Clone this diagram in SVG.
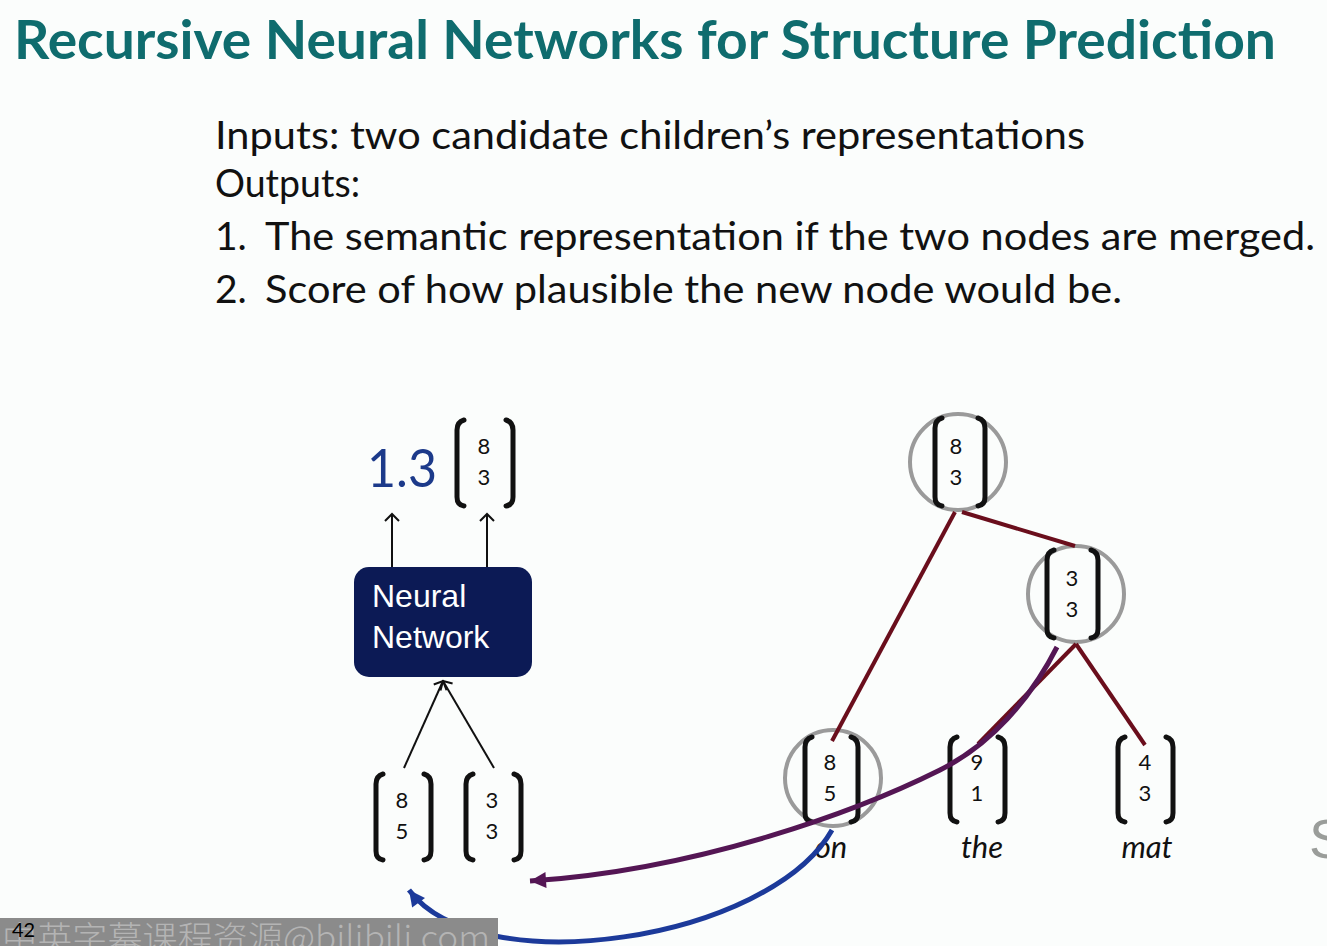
<svg xmlns="http://www.w3.org/2000/svg" width="1327" height="946" viewBox="0 0 1327 946">
<defs>
<style>
.title{font-family:Lato,"Open Sans","Liberation Sans",sans-serif;font-weight:700;font-size:53px;fill:#0f6c6e}
.body{font-family:Lato,"Open Sans","Liberation Sans",sans-serif;font-size:39px;fill:#111}
.num{font-family:Lato,"Open Sans","Liberation Sans",sans-serif;font-size:22px;fill:#111;text-anchor:middle}
.word{font-family:Lato,"Open Sans","Liberation Sans",sans-serif;font-style:italic;font-size:31px;fill:#111;text-anchor:middle}
.br{fill:none;stroke:#111;stroke-width:5;stroke-linecap:round;stroke-linejoin:round}
.ring{fill:none;stroke:#9a9a9a;stroke-width:4}
.edge{stroke:#6a0e1c;stroke-width:4;fill:none}
.thin{stroke:#111;stroke-width:2;fill:none}
</style>
<marker id="chev" markerUnits="userSpaceOnUse" markerWidth="20" markerHeight="20" refX="10" refY="10" orient="auto" viewBox="0 0 20 20">
<path d="M3,3 L10,10 L3,17" fill="none" stroke="#111" stroke-width="2"/>
</marker>
<marker id="purp" markerUnits="userSpaceOnUse" markerWidth="24" markerHeight="24" refX="18" refY="12" orient="auto" viewBox="0 0 24 24">
<path d="M2,4 L18,12 L2,20 Z" fill="#541654"/>
</marker>
<marker id="blue" markerUnits="userSpaceOnUse" markerWidth="24" markerHeight="24" refX="18" refY="12" orient="auto" viewBox="0 0 24 24">
<path d="M2,4 L18,12 L2,20 Z" fill="#1c3a9a"/>
</marker>
</defs>
<rect x="0" y="0" width="1327" height="946" fill="#fbfdfc"/>

<g id="title">
<text class="title" x="14" y="59" textLength="1262" lengthAdjust="spacingAndGlyphs">Recursive Neural Networks for Structure Prediction</text>
</g>

<g id="bullets">
<text class="body" x="215" y="149" textLength="870" lengthAdjust="spacingAndGlyphs">Inputs: two candidate children’s representations</text>
<text class="body" x="215" y="197" textLength="145" lengthAdjust="spacingAndGlyphs">Outputs:</text>
<text class="body" x="215" y="250">1.</text>
<text class="body" x="265" y="250" textLength="1050" lengthAdjust="spacingAndGlyphs">The semantic representation if the two nodes are merged.</text>
<text class="body" x="215" y="303">2.</text>
<text class="body" x="265" y="303" textLength="857" lengthAdjust="spacingAndGlyphs">Score of how plausible the new node would be.</text>
</g>

<g id="nn">
<rect x="354" y="567" width="178" height="110" rx="15" fill="#0c1a55"/>
<text x="372" y="607" font-family="'Liberation Sans',Arial,sans-serif" font-size="32" fill="#fff">Neural</text>
<text x="372" y="648" font-family="'Liberation Sans',Arial,sans-serif" font-size="32" fill="#fff">Network</text>
</g>

<g id="score">
<text x="367" y="487" font-family="Lato,'Open Sans','Liberation Sans',sans-serif" font-size="52" fill="#1c3a8a" textLength="70" lengthAdjust="spacingAndGlyphs">1.3</text>
</g>

<g id="out-vec">
<path class="br" d="M464,420 Q457,422 457,430 L457,497 Q457,505 464,506"/>
<path class="br" d="M506,420 Q513,422 513,430 L513,497 Q513,505 506,506"/>
<text class="num" x="484" y="454">8</text>
<text class="num" x="484" y="485">3</text>
</g>

<g id="in-vec-left">
<path class="br" d="M383,774 Q376,776 376,784 L376,851 Q376,859 383,860"/>
<path class="br" d="M424,774 Q431,776 431,784 L431,851 Q431,859 424,860"/>
<text class="num" x="402" y="808">8</text>
<text class="num" x="402" y="839">5</text>
</g>

<g id="in-vec-right">
<path class="br" d="M473,774 Q466,776 466,784 L466,851 Q466,859 473,860"/>
<path class="br" d="M514,774 Q521,776 521,784 L521,851 Q521,859 514,860"/>
<text class="num" x="492" y="808">3</text>
<text class="num" x="492" y="839">3</text>
</g>

<g id="tree-root">
<circle class="ring" cx="958" cy="462" r="48"/>
<path class="br" d="M942,418 Q935,420 935,428 L935,497 Q935,505 942,506"/>
<path class="br" d="M978,418 Q985,420 985,428 L985,497 Q985,505 978,506"/>
<text class="num" x="956" y="454">8</text>
<text class="num" x="956" y="485">3</text>
</g>

<g id="tree-33">
<circle class="ring" cx="1076" cy="594" r="48"/>
<path class="br" d="M1054,550 Q1047,552 1047,560 L1047,629 Q1047,637 1054,638"/>
<path class="br" d="M1091,550 Q1098,552 1098,560 L1098,629 Q1098,637 1091,638"/>
<text class="num" x="1072" y="586">3</text>
<text class="num" x="1072" y="617">3</text>
</g>

<g id="tree-85">
<circle class="ring" cx="833" cy="778" r="48"/>
<path class="br" d="M812,737 Q805,739 805,747 L805,813 Q805,821 812,822"/>
<path class="br" d="M851,737 Q858,739 858,747 L858,813 Q858,821 851,822"/>
<text class="num" x="830" y="770">8</text>
<text class="num" x="830" y="801">5</text>
</g>

<g id="tree-91">
<path class="br" d="M957,737 Q950,739 950,747 L950,813 Q950,821 957,822"/>
<path class="br" d="M998,737 Q1005,739 1005,747 L1005,813 Q1005,821 998,822"/>
<text class="num" x="977" y="770">9</text>
<text class="num" x="977" y="801">1</text>
</g>

<g id="tree-43">
<path class="br" d="M1125,737 Q1118,739 1118,747 L1118,813 Q1118,821 1125,822"/>
<path class="br" d="M1166,737 Q1173,739 1173,747 L1173,813 Q1173,821 1166,822"/>
<text class="num" x="1145" y="770">4</text>
<text class="num" x="1145" y="801">3</text>
</g>

<g id="words">
<text class="word" x="831" y="858">on</text>
<text class="word" x="982" y="858">the</text>
<text class="word" x="1147" y="858">mat</text>
</g>

<g id="connectors">
<line class="thin" x1="392" y1="567" x2="392" y2="514" marker-end="url(#chev)"/>
<line class="thin" x1="487" y1="567" x2="487" y2="514" marker-end="url(#chev)"/>
<line class="thin" x1="404" y1="768" x2="443" y2="681" marker-end="url(#chev)"/>
<line class="thin" x1="494" y1="768" x2="443" y2="681" marker-end="url(#chev)"/>
<line class="edge" x1="955" y1="512" x2="832" y2="741"/>
<line class="edge" x1="962" y1="512" x2="1075" y2="546"/>
<line class="edge" x1="1076" y1="644" x2="978" y2="744"/>
<line class="edge" x1="1076" y1="644" x2="1145" y2="745"/>
<path d="M1057,647 C1030,700 990,745 940,770 C860,810 700,870 530,881" fill="none" stroke="#541654" stroke-width="5" marker-end="url(#purp)"/>
<path d="M832,830 C770,940 480,985 409,890" fill="none" stroke="#1c3a9a" stroke-width="5" marker-end="url(#blue)"/>
</g>

<g id="edge-s">
<text x="1309" y="858" font-family="'Liberation Sans',Arial,sans-serif" font-size="56" fill="#9a9d9a">S</text>
</g>

<g id="footer">
<rect x="0" y="918" width="498" height="28" fill="#8b8b8b"/>
<text x="2" y="950" font-family="'Noto Sans CJK SC','DejaVu Sans',sans-serif" font-weight="300" font-size="33" fill="#b4b4b4" textLength="488" lengthAdjust="spacingAndGlyphs">中英字幕课程资源@bilibili.com</text>
<text x="12" y="937" font-family="Lato,'Liberation Sans',sans-serif" font-size="20" fill="#000">42</text>
</g>
</svg>
